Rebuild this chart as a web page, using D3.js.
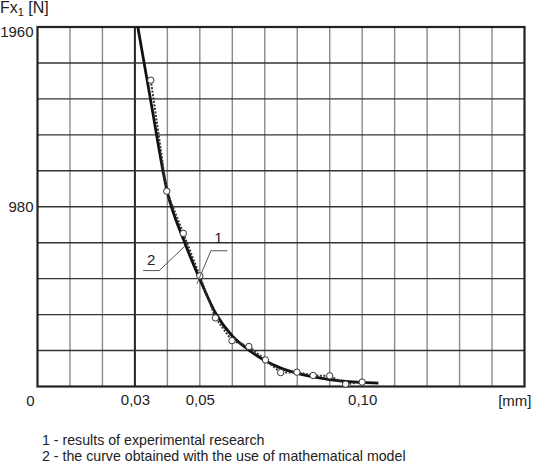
<!DOCTYPE html>
<html>
<head>
<meta charset="utf-8">
<script src="https://cdn.jsdelivr.net/npm/d3@7"></script>
<style>
  body { margin: 0; background: #fff; }
  svg { font-family: "Liberation Sans", Arial, sans-serif; }
</style>
</head>
<body>
<div id="chart"></div>
<script>
// experimental research (series 1), mm / N
const expX = [0.0349, 0.0398, 0.0449, 0.0500, 0.0548, 0.0599, 0.0651, 0.0702, 0.0749, 0.0799, 0.0849, 0.0900, 0.0949, 0.1000];
const expY = [1670, 1065, 835, 603, 374, 250, 218, 145, 76, 78, 60, 58, 13, 24];

// curve from the mathematical model (series 2)
const modelX = [0.0309, 0.035, 0.040, 0.045, 0.050, 0.055, 0.060, 0.065, 0.070, 0.075, 0.080, 0.085, 0.090, 0.095, 0.100, 0.105];
const modelY = [1960, 1545, 1060, 800, 585, 395, 275, 200, 142, 100, 72, 52, 38, 28, 22, 18];

const xTicks = [0.03, 0.05, 0.10];
const xTickLabels = ['0,03', '0,05', '0,10'];
const yTicks = [980, 1960];
const yTickLabels = ['980', '1960'];
const legendLines = ['1 - results of experimental research', '2 - the curve obtained with the use of mathematical model'];

const width = 533;
const height = 466;
const margin = { top: 27, right: 8.5, bottom: 79.5, left: 37.5 };

const x = d3.scaleLinear().domain([0, 0.15]).range([margin.left, width - margin.right]);
const y = d3.scaleLinear().domain([0, 1960]).range([height - margin.bottom, margin.top]);

const svg = d3.select('#chart')
  .append('svg')
  .attr('width', width)
  .attr('height', height);

// grid
svg.append('g')
  .selectAll('line')
  .data(d3.range(1, 15).map((i) => i * 0.01))
  .enter()
  .append('line')
  .attr('x1', (d) => x(d))
  .attr('x2', (d) => x(d))
  .attr('y1', y(0))
  .attr('y2', y(1960))
  .attr('stroke', (d, i) => (i === 2 ? '#222' : '#8a8a8a'))
  .attr('stroke-width', (d, i) => (i === 2 ? 2 : 1.4));

svg.append('g')
  .selectAll('line')
  .data(d3.range(1, 10).map((i) => i * 196))
  .enter()
  .append('line')
  .attr('x1', x(0))
  .attr('x2', x(0.15))
  .attr('y1', (d) => y(d))
  .attr('y2', (d) => y(d))
  .attr('stroke', '#333')
  .attr('stroke-width', 1.4);

// frame
svg.append('rect')
  .attr('x', x(0))
  .attr('y', y(1960))
  .attr('width', x(0.15) - x(0))
  .attr('height', y(0) - y(1960))
  .attr('fill', 'none')
  .attr('stroke', '#222')
  .attr('stroke-width', 2.2);

// axes
const xAxis = d3.axisBottom(x)
  .tickValues(xTicks)
  .tickFormat((d, i) => xTickLabels[i])
  .tickSize(0)
  .tickPadding(8);

const gx = svg.append('g')
  .attr('transform', 'translate(0,' + y(0) + ')')
  .call(xAxis)
  .attr('font-family', null)
  .attr('font-size', 15);
gx.select('.domain').remove();
gx.selectAll('text').attr('fill', '#222');

const yAxis = d3.axisLeft(y)
  .tickValues(yTicks)
  .tickFormat((d, i) => yTickLabels[i])
  .tickSize(0)
  .tickPadding(4);

const gy = svg.append('g')
  .attr('transform', 'translate(' + x(0) + ',0)')
  .call(yAxis)
  .attr('font-family', null)
  .attr('font-size', 15);
gy.select('.domain').remove();
gy.selectAll('text')
  .attr('fill', '#222')
  .attr('dy', (d) => (d === 1960 ? '0.62em' : '0.32em'));

svg.append('text')
  .attr('x', x(0) - 7)
  .attr('y', y(0) + 19)
  .attr('text-anchor', 'middle')
  .attr('font-size', 15)
  .attr('fill', '#222')
  .text('0');

svg.append('text')
  .attr('x', x(0.15) + 7)
  .attr('y', y(0) + 19)
  .attr('text-anchor', 'end')
  .attr('font-size', 15)
  .attr('fill', '#222')
  .text('[mm]');

const yLabel = svg.append('text')
  .attr('x', 0)
  .attr('y', 13)
  .attr('font-size', 16)
  .attr('fill', '#222');
yLabel.append('tspan').text('Fx');
yLabel.append('tspan').attr('font-size', 11).attr('dy', 3).text('1');
yLabel.append('tspan').attr('dy', -3).text(' [N]');

// series 2: model curve
const expData = expX.map((d, i) => ({ x: d, y: expY[i] }));
const modelData = modelX.map((d, i) => ({ x: d, y: modelY[i] }));

svg.append('path')
  .datum(modelData)
  .attr('d', d3.line().x((d) => x(d.x)).y((d) => y(d.y)).curve(d3.curveMonotoneX))
  .attr('fill', 'none')
  .attr('stroke', '#111')
  .attr('stroke-width', 2.8);

// series 1: experimental points
svg.append('path')
  .datum(expData)
  .attr('d', d3.line().x((d) => x(d.x)).y((d) => y(d.y)))
  .attr('fill', 'none')
  .attr('stroke', '#333')
  .attr('stroke-width', 2)
  .attr('stroke-dasharray', '2,1.5');

svg.append('g')
  .selectAll('circle')
  .data(expData)
  .enter()
  .append('circle')
  .attr('cx', (d) => x(d.x))
  .attr('cy', (d) => y(d.y))
  .attr('r', 3.2)
  .attr('fill', '#fff')
  .attr('stroke', '#333')
  .attr('stroke-width', 1);

// leader labels
const leaders = [
  { label: '1', from: [0.0491, 560], knee: [0.0534, 740], end: [0.0585, 740], text: [0.0557, 785] },
  { label: '2', from: [0.0454, 765], knee: [0.0375, 632], end: [0.0325, 632], text: [0.0350, 665] }
];

leaders.forEach((l) => {
  svg.append('path')
    .attr('d', d3.line()([l.from, l.knee, l.end].map((p) => [x(p[0]), y(p[1])])))
    .attr('fill', 'none')
    .attr('stroke', '#555')
    .attr('stroke-width', 1);
  svg.append('text')
    .attr('x', x(l.text[0]))
    .attr('y', y(l.text[1]))
    .attr('text-anchor', 'middle')
    .attr('font-size', 15)
    .attr('fill', '#222')
    .text(l.label);
});

// legend
svg.append('g')
  .selectAll('text')
  .data(legendLines)
  .enter()
  .append('text')
  .attr('x', 42)
  .attr('y', (d, i) => 444.5 + i * 16.5)
  .attr('font-size', 14.2)
  .attr('fill', '#222')
  .text((d) => d);
</script>
</body>
</html>
